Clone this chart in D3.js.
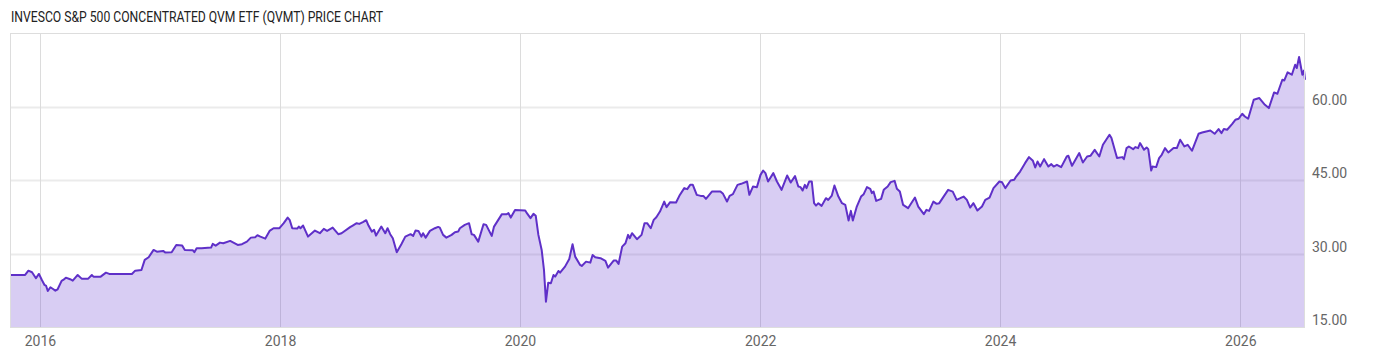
<!DOCTYPE html>
<html>
<head>
<meta charset="utf-8">
<script src="https://cdn.jsdelivr.net/npm/d3@7"></script>
<style>
  html, body { margin: 0; padding: 0; background: #ffffff; }
  svg { display: block; }
</style>
</head>
<body>
<svg id="chart" width="1400" height="357"></svg>
<script>
const title = "INVESCO S&P 500 CONCENTRATED QVM ETF (QVMT) PRICE CHART";

const dates = [
"2015-10-02","2015-11-17","2015-11-27","2015-12-08","2015-12-20","2015-12-29","2016-01-07","2016-01-15","2016-01-20","2016-01-25",
"2016-02-02","2016-02-10","2016-02-17","2016-02-24","2016-03-07","2016-03-12","2016-03-20","2016-04-02","2016-04-10","2016-04-25",
"2016-05-07","2016-05-27","2016-06-07","2016-06-12","2016-07-04","2016-07-20","2016-07-30","2016-10-07","2016-10-17","2016-11-05",
"2016-11-15","2016-11-27","2016-12-12","2016-12-22","2017-01-10","2017-01-17","2017-02-05","2017-02-19","2017-03-09","2017-03-17",
"2017-04-10","2017-04-15","2017-04-22","2017-05-07","2017-06-05","2017-06-10","2017-06-19","2017-07-02","2017-07-12","2017-08-02",
"2017-08-12","2017-08-25","2017-09-07","2017-09-22","2017-10-04","2017-10-17","2017-10-24","2017-11-02","2017-11-17","2017-11-30",
"2017-12-12","2017-12-30","2018-01-12","2018-01-24","2018-01-30","2018-02-07","2018-02-22","2018-02-27","2018-03-04","2018-03-12",
"2018-03-27","2018-04-17","2018-05-02","2018-05-14","2018-05-24","2018-06-10","2018-06-27","2018-07-07","2018-08-02","2018-08-10",
"2018-08-22","2018-08-30","2018-09-10","2018-09-20","2018-09-27","2018-10-07","2018-10-14","2018-10-20","2018-11-05","2018-11-17",
"2018-11-24","2018-12-02","2018-12-10","2018-12-22","2019-01-05","2019-01-17","2019-02-02","2019-02-10","2019-02-17","2019-02-26",
"2019-03-07","2019-03-12","2019-03-20","2019-04-02","2019-04-17","2019-04-27","2019-05-02","2019-05-12","2019-05-22","2019-06-07",
"2019-06-17","2019-06-27","2019-07-02","2019-07-17","2019-07-30","2019-08-07","2019-08-14","2019-08-27","2019-09-12","2019-09-20",
"2019-10-07","2019-10-14","2019-11-07","2019-11-22","2019-11-27","2019-12-04","2019-12-17","2020-01-17","2020-01-22","2020-02-02",
"2020-02-11","2020-02-18","2020-02-26","2020-03-07","2020-03-14","2020-03-20","2020-03-27","2020-04-04","2020-04-12","2020-04-17",
"2020-04-27","2020-05-02","2020-05-17","2020-05-30","2020-06-09","2020-06-17","2020-07-02","2020-07-07","2020-07-20","2020-08-02",
"2020-08-09","2020-08-17","2020-09-02","2020-09-17","2020-09-25","2020-10-12","2020-10-20","2020-10-27","2020-11-07","2020-11-17",
"2020-11-25","2020-11-30","2020-12-07","2020-12-22","2021-01-05","2021-01-14","2021-01-22","2021-02-02","2021-02-11","2021-02-19",
"2021-03-02","2021-03-15","2021-03-22","2021-04-02","2021-04-20","2021-04-30","2021-05-15","2021-05-24","2021-06-02","2021-06-10",
"2021-06-22","2021-07-04","2021-07-12","2021-07-20","2021-08-07","2021-09-02","2021-09-10","2021-09-22","2021-09-30","2021-10-10",
"2021-10-24","2021-11-04","2021-11-22","2021-11-29","2021-12-10","2021-12-22","2022-01-02","2022-01-10","2022-01-17","2022-01-25",
"2022-02-10","2022-02-21","2022-03-07","2022-03-24","2022-04-04","2022-04-17","2022-04-27","2022-05-04","2022-05-10","2022-05-17",
"2022-05-22","2022-05-30","2022-06-07","2022-06-14","2022-06-20","2022-06-27","2022-07-07","2022-07-20","2022-07-27","2022-08-07",
"2022-08-15","2022-08-27","2022-09-07","2022-09-17","2022-09-27","2022-10-04","2022-10-10","2022-10-22","2022-11-04","2022-11-12",
"2022-11-22","2022-12-02","2022-12-07","2022-12-12","2022-12-20","2023-01-04","2023-01-12","2023-01-24","2023-02-02","2023-02-14",
"2023-02-21","2023-03-02","2023-03-12","2023-03-27","2023-04-17","2023-04-27","2023-05-14","2023-05-22","2023-05-30","2023-06-12",
"2023-06-22","2023-06-30","2023-07-27","2023-08-10","2023-08-22","2023-09-02","2023-09-12","2023-09-22","2023-10-02","2023-10-12",
"2023-10-24","2023-11-07","2023-11-17","2023-11-30","2023-12-12","2023-12-30","2024-01-07","2024-01-17","2024-02-02","2024-02-13",
"2024-02-19","2024-03-02","2024-03-17","2024-03-29","2024-04-10","2024-04-17","2024-04-24","2024-05-02","2024-05-14","2024-05-27",
"2024-06-05","2024-06-12","2024-06-22","2024-07-05","2024-07-22","2024-07-27","2024-08-07","2024-08-29","2024-09-09","2024-09-22",
"2024-10-02","2024-10-15","2024-10-29","2024-11-09","2024-11-29","2024-12-05","2024-12-22","2025-01-07","2025-01-12","2025-01-20",
"2025-01-27","2025-02-09","2025-02-16","2025-02-24","2025-03-02","2025-03-14","2025-03-22","2025-03-27","2025-04-05","2025-04-09",
"2025-04-20","2025-04-29","2025-05-07","2025-05-17","2025-05-27","2025-06-12","2025-06-22","2025-07-02","2025-07-15","2025-07-25",
"2025-08-07","2025-08-27","2025-09-07","2025-10-02","2025-10-15","2025-10-27","2025-11-05","2025-11-12","2025-11-22","2025-12-07",
"2025-12-17","2025-12-27","2026-01-07","2026-01-15","2026-01-25","2026-02-11","2026-02-28","2026-03-17","2026-03-29","2026-04-14",
"2026-04-24","2026-05-09","2026-05-15","2026-05-25","2026-06-07","2026-06-17","2026-06-22","2026-06-29","2026-07-09","2026-07-14",
"2026-07-17"
];

const prices = [
25.62,25.62,26.50,26.18,24.95,25.83,24.60,23.58,23.38,22.35,
23.11,22.76,22.42,22.70,24.40,24.60,25.07,24.75,24.46,25.62,
24.87,24.87,25.62,25.28,25.28,26.09,25.83,25.83,26.50,26.64,
28.69,29.24,30.73,30.38,30.53,30.18,30.26,31.75,31.61,30.73,
30.67,30.26,31.08,31.08,31.20,31.96,31.61,32.22,32.10,32.57,
32.22,31.75,31.90,32.43,33.24,33.33,33.73,33.45,33.04,34.61,
35.16,35.16,36.19,37.33,36.86,35.16,35.08,35.49,35.16,35.70,
33.45,34.67,34.14,35.02,34.61,35.29,33.94,34.14,35.37,35.70,
36.19,36.04,36.39,36.80,35.70,34.47,34.82,33.65,35.49,34.14,
35.16,33.94,33.12,30.26,31.90,33.45,33.94,33.59,34.67,34.61,
33.45,34.14,33.24,34.61,35.16,35.43,35.29,33.80,33.24,33.80,
34.35,34.47,35.16,35.84,36.19,33.94,33.80,32.43,35.98,35.84,
33.59,35.49,38.03,38.03,38.23,37.33,38.90,38.76,38.23,37.21,
38.09,37.68,33.80,30.73,26.65,20.17,24.05,23.93,25.62,25.28,
26.44,26.09,27.32,28.89,31.90,29.36,27.67,27.46,28.34,28.14,
29.71,29.24,29.04,28.48,27.12,28.55,28.55,27.87,31.41,32.10,
33.80,33.12,34.14,32.92,33.80,36.19,36.19,35.16,36.86,37.41,
38.56,40.60,39.45,40.48,40.40,41.77,43.34,43.14,44.01,44.01,
41.97,41.76,41.76,41.15,42.64,42.64,42.17,40.60,41.77,42.11,
44.01,44.22,44.69,41.97,43.66,43.54,46.05,46.93,46.40,44.69,
46.40,44.69,42.99,45.91,44.49,45.80,43.66,43.54,42.85,44.01,
43.34,44.69,44.69,40.27,39.78,40.27,39.72,41.29,40.95,41.82,
43.87,41.62,40.27,39.92,36.72,38.70,36.72,39.58,41.62,42.11,
43.54,43.20,42.32,42.64,40.74,41.15,42.99,43.66,44.56,44.83,
43.20,42.64,39.92,39.25,41.42,39.58,38.03,38.90,38.70,40.60,
40.13,40.27,42.99,42.64,40.95,41.29,41.62,40.95,39.37,40.27,
38.76,39.58,40.95,41.42,43.34,44.69,44.56,43.34,44.89,45.03,
45.71,46.73,48.44,49.67,48.91,47.55,48.77,47.75,49.26,47.75,
48.24,47.75,48.10,47.63,49.80,49.94,47.89,50.49,48.57,49.80,
49.94,51.16,49.80,52.19,54.23,53.55,49.47,49.67,49.26,51.51,
51.84,51.30,51.71,51.51,52.53,51.16,51.63,51.30,46.93,47.75,
47.63,49.47,50.14,51.51,50.61,51.51,51.51,53.21,51.84,52.19,
50.96,54.43,54.70,55.11,54.43,55.39,54.57,55.39,55.25,56.41,
57.29,57.50,58.52,57.96,57.50,61.38,61.72,60.35,59.68,62.87,
62.60,65.46,65.32,66.96,66.48,68.53,67.85,70.10,66.48,67.36,
65.46
];

const yTicks = [15, 30, 45, 60];
const yDomain = [15, 75];
const xTickYears = [2016, 2018, 2020, 2022, 2024, 2026];

const parse = d3.timeParse("%Y-%m-%d");
const data = dates.map((d, i) => ({ date: parse(d), value: prices[i] }));

const plot = { left: 10, right: 1305, top: 33, bottom: 327 };

const svg = d3.select("#chart");

const x = d3.scaleTime()
  .domain(d3.extent(data, d => d.date))
  .range([plot.left, plot.right]);

const y = d3.scaleLinear()
  .domain(yDomain)
  .range([plot.bottom, plot.top]);

// title
svg.append("text")
  .attr("x", 11)
  .attr("y", 22)
  .attr("font-family", "Roboto, 'Noto Sans', sans-serif")
  .attr("font-size", 15)
  .attr("fill", "#222")
  .attr("textLength", 372)
  .attr("lengthAdjust", "spacingAndGlyphs")
  .text(title);

// horizontal gridlines
svg.append("g")
  .selectAll("line")
  .data(yTicks.filter(t => t > yDomain[0]))
  .join("line")
  .attr("x1", plot.left).attr("x2", plot.right)
  .attr("y1", d => Math.round(y(d)) + 0.5).attr("y2", d => Math.round(y(d)) + 0.5)
  .attr("stroke", "#ebebeb").attr("stroke-width", 2);

// vertical gridlines
const yearDates = xTickYears.map(yr => new Date(yr, 0, 1));
svg.append("g")
  .selectAll("line")
  .data(yearDates)
  .join("line")
  .attr("x1", d => Math.round(x(d)) + 0.5).attr("x2", d => Math.round(x(d)) + 0.5)
  .attr("y1", plot.top).attr("y2", plot.bottom)
  .attr("stroke", "#dcdcdc").attr("stroke-width", 1);

// area
const area = d3.area()
  .x(d => x(d.date))
  .y0(plot.bottom)
  .y1(d => y(d.value));

svg.append("path")
  .datum(data)
  .attr("d", area)
  .attr("fill", "#6a3fd0")
  .attr("fill-opacity", 0.26);

// line
const line = d3.line()
  .x(d => x(d.date))
  .y(d => y(d.value));

svg.append("path")
  .datum(data)
  .attr("d", line)
  .attr("fill", "none")
  .attr("stroke", "#5f30c8")
  .attr("stroke-width", 2)
  .attr("stroke-linejoin", "round");

// plot border
svg.append("rect")
  .attr("x", plot.left + 0.5).attr("y", plot.top + 0.5)
  .attr("width", plot.right - plot.left - 1).attr("height", plot.bottom - plot.top)
  .attr("fill", "none")
  .attr("stroke", "#dddddd")
  .attr("stroke-width", 1);

// x axis
const xAxis = svg.append("g")
  .attr("transform", `translate(0,${plot.bottom})`)
  .call(d3.axisBottom(x).tickValues(yearDates).tickFormat(d3.timeFormat("%Y")).tickSize(0).tickPadding(0));
xAxis.select(".domain").remove();
xAxis.selectAll("text")
  .attr("y", 19)
  .attr("dy", 0)
  .attr("font-family", "Roboto, 'Noto Sans', sans-serif")
  .attr("font-size", 14)
  .attr("fill", "#666");

// y axis
const yAxis = svg.append("g")
  .attr("transform", `translate(${plot.right},0)`)
  .call(d3.axisRight(y).tickValues(yTicks).tickFormat(d3.format(".2f")).tickSize(0).tickPadding(7));
yAxis.select(".domain").remove();
yAxis.selectAll("text")
  .attr("dy", "-0.15em")
  .attr("font-family", "Roboto, 'Noto Sans', sans-serif")
  .attr("font-size", 14)
  .attr("fill", "#666");
</script>
</body>
</html>
